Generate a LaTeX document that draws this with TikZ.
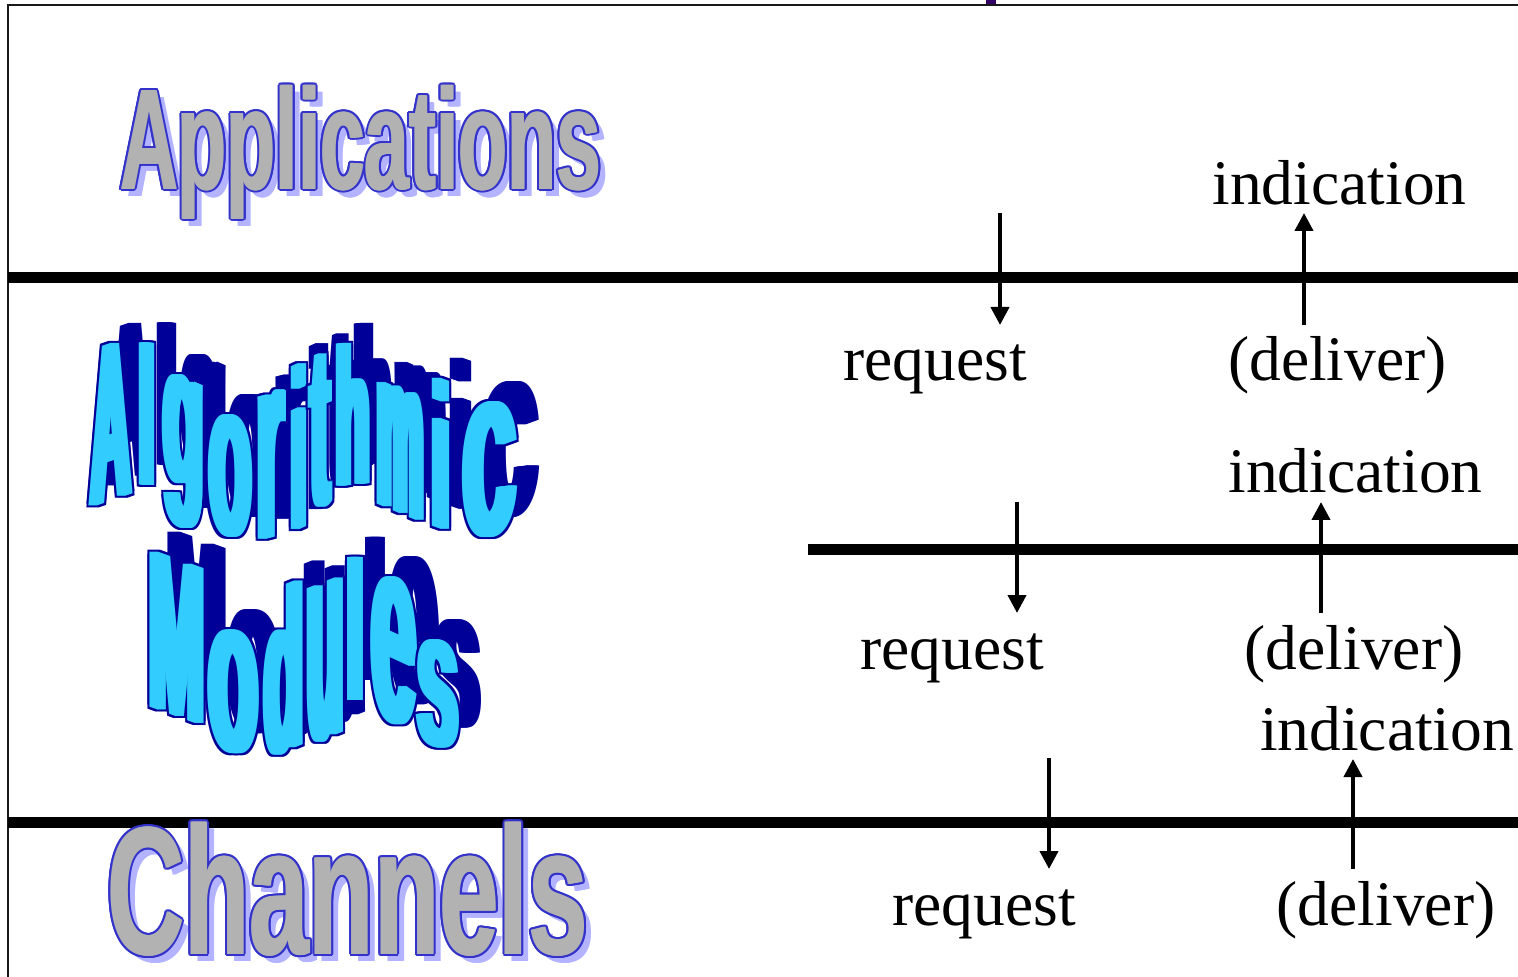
\documentclass[tikz,border=0pt]{standalone}
\usepackage{fontspec}
\setmainfont{Liberation Serif}
\newfontfamily\artfont{Liberation Sans}
\usepackage{graphicx}
\usetikzlibrary{arrows.meta,calc}

\definecolor{artgray}{HTML}{B2B2B2}
\definecolor{artblue}{HTML}{3333CC}
\definecolor{artshade}{HTML}{B3B3FF}
\definecolor{wavefill}{HTML}{33CCFF}
\definecolor{wavenavy}{HTML}{000099}
\definecolor{titlepurple}{HTML}{330066}

% one drawing unit = one pixel = 0.5pt
\newdimen\pxu \pxu=0.5pt

% a bold sans glyph (or word) stretched to a given ink box
\newcommand\artglyph[3]{\resizebox*{#1\pxu}{#2\pxu}{\artfont\bfseries #3}}

% shadow of a piece of lettering: name, left, top, width, height, text
\newcommand\artshadowat[6]{%
  \foreach \h in {-1,0,1}{%
    \node[artbox, art shadow, name=#1-s\h] at ({#2+\artdx+\h},{#3+\artdy}) {\artglyph{#4}{#5}{#6}};%
  }%
}
% outlined face of a piece of lettering: name, left, top, width, height, text
\newcommand\artfaceat[6]{%
  \foreach \h in {-1,1}{%
    \foreach \a in {0,30,...,330}{%
      \node[artbox, art line, name=#1-o\h/\a] at ([shift={(\a:\artrad)}] {#2+\h},#3) {\artglyph{#4}{#5}{#6}};%
    }%
  }%
  \foreach \h in {-1,0,1}{%
    \node[artbox, art fill, name=#1-f\h] at ({#2+\h},#3) {\artglyph{#4}{#5}{#6}};%
  }%
}

% heavy wave letters, widened sideways by repetition and sheared along the wave
% name, left, top, width, height, glyph, slant
\newcommand\waveshadowat[7]{%
  \begin{scope}[shift={({#2+#4/2+\artdx},{#3+\artdy})}]
  \foreach \d in {-6,-5,...,6}{%
    \node[waveglyph, art shadow, yslant=#7, name=#1-s\d] at (\d,0) {\artglyph{#4}{#5}{#6}};%
  }%
  \end{scope}
}
\newcommand\wavefaceat[7]{%
  \begin{scope}[shift={({#2+#4/2},#3)}]
  \foreach \d in {-6,-5,...,6}{%
    \foreach \e in {-2,2}{%
      \node[waveglyph, art line, yslant=#7, name=#1-o\d/\e] at (\d,\e) {\artglyph{#4}{#5}{#6}};%
    }%
  }%
  \foreach \d in {-4,-3,...,4}{%
    \node[waveglyph, art fill, yslant=#7, name=#1-f\d] at (\d,0) {\artglyph{#4}{#5}{#6}};%
  }%
  \end{scope}
}

\begin{document}
\begin{tikzpicture}[x=0.5pt, y=-0.5pt,
  artbox/.style={anchor=north west, inner sep=0pt, outer sep=0pt},
  waveglyph/.style={anchor=north, inner sep=0pt, outer sep=0pt},
  lbl/.style={font=\fontsize{31.75}{38}\selectfont, inner sep=0pt, anchor=base},
  rule/.style={line width=5.5pt},
  frame/.style={line width=1pt, black!90},
  flow/.style={line width=2pt, -{Triangle[length=9pt, width=9pt]}}]

\useasboundingbox (0,0) rectangle (1518,977);
\fill[white] (0,0) rectangle (1518,977);

% frame and the foot of the heading above it
\fill[titlepurple] (986,0) rectangle (996,5);
\draw[frame] (8,977) -- (8,5) -- (1518,5);

% layer boundaries
\draw[rule] (8,277.5) -- (1518,277.5);
\draw[rule] (808,549) -- (1518,549);
\draw[rule] (8,822) -- (1518,822);

% gray lettering with a lavender shadow
\begin{scope}[art shadow/.style={text=artshade}, art line/.style={text=artblue},
              art fill/.style={text=artgray}]
  \def\artdx{7}\def\artdy{7}\def\artrad{2}
  \artshadowat{apps}{120}{85}{481}{134}{Applications}
  \artfaceat{apps}{120}{85}{481}{134}{Applications}
  \artshadowat{chans}{107}{822}{481}{134}{Channels}
  \artfaceat{chans}{107}{822}{481}{134}{Channels}
\end{scope}

% wavy lettering: navy shadow behind, cyan letters with navy outline
\begin{scope}[art shadow/.style={text=wavenavy}, art line/.style={text=wavenavy},
              art fill/.style={text=wavefill}]
  \def\artdx{20}\def\artdy{-20}
  \def\waveletters{
      a1/92/345/39/155/A/0.34, a2/139/343/15/142/l/-0.09, a3/164/377/40/151/g/-0.44,
      a4/209/415/42/122/o/-0.25, a5/257/392/26/145/r/0.25, a6/291/365/15/163/i/0.45,
      a7/311/355/18/153/t/0.42, a8/336/343/33/142/h/0.10, a9/377/388/46/124/m/-0.42,
      a10/431/380/19/148/i/-0.35, a11/462/402/54/135/c/0.24,
      m1/149/560/55/155/M/-0.36, m2/209/630/49/123/o/-0.27, m3/264/587/39/166/d/0.40,
      m4/307/583/36/157/u/0.39, m5/347/557/16/143/l/0, m6/371/577/45/146/e/-0.46,
      m7/417/640/41/107/s/-0.29}
  \foreach \n/\lx/\ty/\w/\h/\ch/\s in \waveletters {
    \waveshadowat{\n}{\lx}{\ty}{\w}{\h}{\ch}{\s}
  }
  \foreach \n/\lx/\ty/\w/\h/\ch/\s in \waveletters {
    \wavefaceat{\n}{\lx}{\ty}{\w}{\h}{\ch}{\s}
  }
\end{scope}

% service primitives at each boundary
\node[lbl] (ind1) at (1339.5,205) {indication};
\node[lbl] (req1) at (935,381) {request};
\node[lbl] (del1) at (1337.5,381) {(deliver)};
\node[lbl] (ind2) at (1355.5,493) {indication};
\node[lbl] (req2) at (952,669) {request};
\node[lbl] (del2) at (1354,669) {(deliver)};
\node[lbl] (ind3) at (1387,750) {indication};
\node[lbl] (req3) at (984,925) {request};
\node[lbl] (del3) at (1386,925) {(deliver)};

\coordinate (rq1a) at (1000,213);  \coordinate (rq1b) at (1000,325);
\coordinate (dl1a) at (1304,325);  \coordinate (dl1b) at (1304,213);
\coordinate (rq2a) at (1017,502);  \coordinate (rq2b) at (1017,613);
\coordinate (dl2a) at (1321,613);  \coordinate (dl2b) at (1321,502);
\coordinate (rq3a) at (1049,758);  \coordinate (rq3b) at (1049,869);
\coordinate (dl3a) at (1353,869);  \coordinate (dl3b) at (1353,759);

\draw[flow] (rq1a) -- (rq1b);
\draw[flow] (dl1a) -- (dl1b);
\draw[flow] (rq2a) -- (rq2b);
\draw[flow] (dl2a) -- (dl2b);
\draw[flow] (rq3a) -- (rq3b);
\draw[flow] (dl3a) -- (dl3b);
\end{tikzpicture}
\end{document}
